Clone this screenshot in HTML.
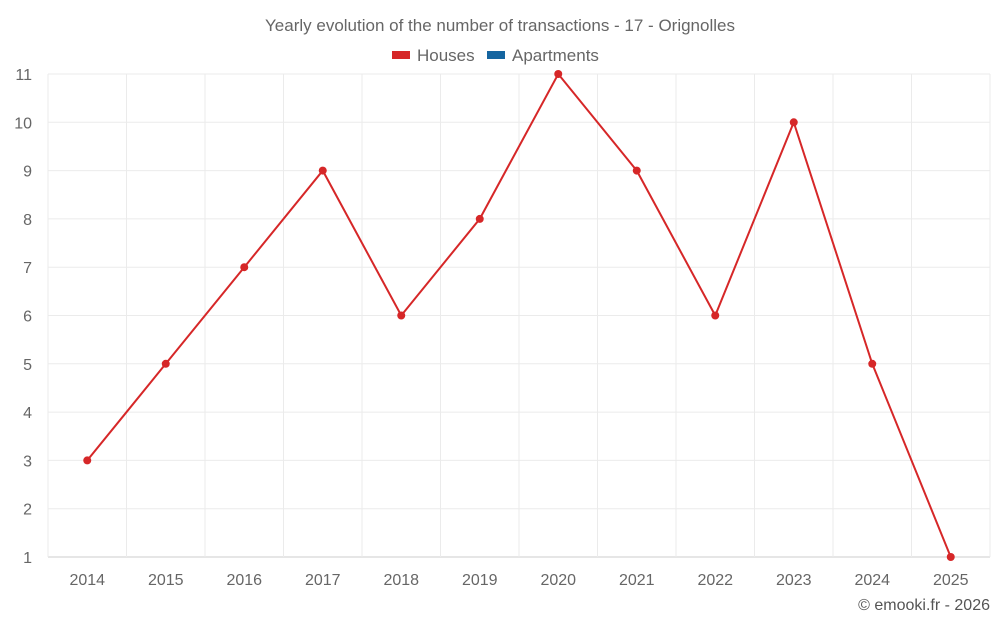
<!DOCTYPE html>
<html><head><meta charset="utf-8"><style>
html,body{margin:0;padding:0;background:#fff;}
svg{display:block;font-family:"Liberation Sans",sans-serif;}
</style></head><body>
<svg id="chart" width="1000" height="625">
<text x="500" y="31" text-anchor="middle" font-size="17" fill="#666">Yearly evolution of the number of transactions - 17 - Orignolles</text>
<g><rect x="392" y="51" width="18" height="8" fill="#d62728"/><text x="417" y="61" font-size="17" fill="#666">Houses</text></g>
<g><rect x="487" y="51" width="18" height="8" fill="#1565a0"/><text x="512" y="61" font-size="17" fill="#666">Apartments</text></g>
<g id="grid"></g><g id="axes"></g><g id="marks"></g>
<text x="990" y="610" text-anchor="end" font-size="16" fill="#555">© emooki.fr - 2026</text>
</svg>
<script>
const categories=["2014","2015","2016","2017","2018","2019","2020","2021","2022","2023","2024","2025"];
const houses=[3,5,7,9,6,8,11,9,6,10,5,1];
const yTicks=[1,2,3,4,5,6,7,8,9,10,11];
const NS="http://www.w3.org/2000/svg";
const L=48,R=990,T=74,B=557,yMin=1,yMax=11;
const bw=(R-L)/categories.length;
const x=i=>L+bw*(i+0.5);
const y=v=>B-(v-yMin)/(yMax-yMin)*(B-T);
function mk(t,a,p){const e=document.createElementNS(NS,t);for(const k in a)e.setAttribute(k,a[k]);p.appendChild(e);return e;}
const grid=document.getElementById('grid'),axes=document.getElementById('axes'),marks=document.getElementById('marks');
yTicks.forEach(v=>{
 const l=mk('line',{x1:L,x2:R,y1:y(v),y2:y(v),stroke:v===yMin?'#ccc':'#ebebeb','stroke-width':1},grid);
 
 
 const t=mk('text',{x:32,y:y(v)+6,'text-anchor':'end','font-size':16,fill:'#666'},axes);
 t.textContent=v;
 
 
});
for(let i=0;i<=categories.length;i++){
 const l=mk('line',{x1:L+bw*i,x2:L+bw*i,y1:T,y2:B,stroke:'#ebebeb','stroke-width':1},grid);
 
 
}
categories.forEach((c,i)=>{
 const t=mk('text',{x:x(i),y:585,'text-anchor':'middle','font-size':16,fill:'#666'},axes);
 t.textContent=c;
 
 
});
const line=mk('polyline',{points:houses.map((v,i)=>x(i)+','+y(v)).join(' '),fill:'none',stroke:'#d62728','stroke-width':2},marks);


houses.forEach((v,i)=>{
 const c=mk('circle',{cx:x(i),cy:y(v),r:4,fill:'#d62728'},marks);
 
 
});
</script>
</body></html>
